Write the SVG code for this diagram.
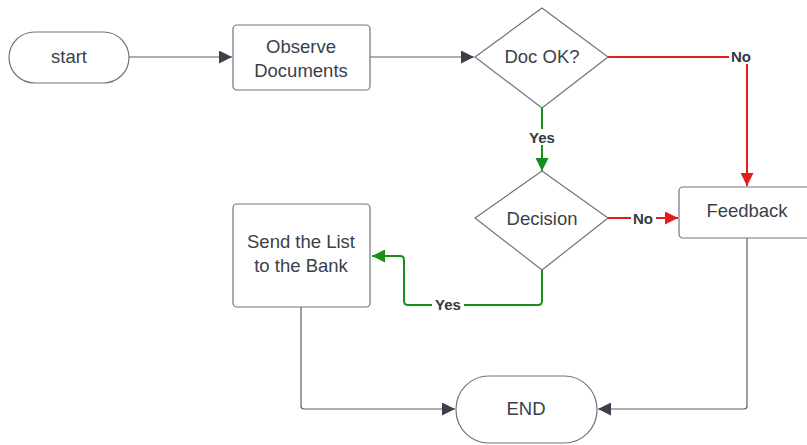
<svg xmlns="http://www.w3.org/2000/svg" width="807" height="445" viewBox="0 0 807 445">
  <style>
    .shape { fill: #ffffff; stroke: #70747b; stroke-width: 1.2; }
    .txt { font-family: "Liberation Sans", Arial, sans-serif; font-size: 18.5px; fill: #3a414a; text-anchor: middle; dominant-baseline: central; }
    .lbl { font-family: "Liberation Sans", Arial, sans-serif; font-size: 15px; font-weight: bold; fill: #333a42; text-anchor: middle; dominant-baseline: central; }
    .line { fill: none; stroke: #5a5f67; stroke-width: 1.2; }
    .red { fill: none; stroke: #e51c1c; stroke-width: 2; }
    .green { fill: none; stroke: #16901a; stroke-width: 2; }
    .lblbg { fill: #ffffff; }
  </style>
  <defs>
    <marker id="arrGray" viewBox="0 0 10 10" refX="10" refY="5" markerWidth="13" markerHeight="13" markerUnits="userSpaceOnUse" orient="auto">
      <path d="M0,0 L10,5 L0,10 z" fill="#3a414a"/>
    </marker>
    <marker id="arrRed" viewBox="0 0 10 10" refX="10" refY="5" markerWidth="13" markerHeight="13" markerUnits="userSpaceOnUse" orient="auto">
      <path d="M0,0 L10,5 L0,10 z" fill="#e51c1c"/>
    </marker>
    <marker id="arrGreen" viewBox="0 0 10 10" refX="10" refY="5" markerWidth="13" markerHeight="13" markerUnits="userSpaceOnUse" orient="auto">
      <path d="M0,0 L10,5 L0,10 z" fill="#16901a"/>
    </marker>
  </defs>

  <rect width="807" height="445" fill="#ffffff"/>

  <g id="connectors">
    <path class="line" d="M129,57 H232" marker-end="url(#arrGray)"/>
    <path class="line" d="M370,57 H474" marker-end="url(#arrGray)"/>
    <path class="red" d="M608,57 H743 Q747,57 747,61 V186" marker-end="url(#arrRed)"/>
    <path class="green" d="M542,108 V171" marker-end="url(#arrGreen)"/>
    <path class="red" d="M608,218 H678" marker-end="url(#arrRed)"/>
    <path class="green" d="M542,270 V301 Q542,305 538,305 H408 Q404,305 404,301 V260 Q404,256 400,256 H372" marker-end="url(#arrGreen)"/>
    <path class="line" d="M301,307 V406 Q301,409 304,409 H455" marker-end="url(#arrGray)"/>
    <path class="line" d="M747,238 V406 Q747,409 744,409 H598" marker-end="url(#arrGray)"/>
    <rect class="lblbg" x="729" y="48" width="25" height="16"/>
    <text class="lbl" x="741" y="56">No</text>
    <rect class="lblbg" x="527" y="129" width="31" height="16"/>
    <text class="lbl" x="542" y="137">Yes</text>
    <rect class="lblbg" x="631" y="210" width="25" height="16"/>
    <text class="lbl" x="643" y="218">No</text>
    <rect class="lblbg" x="432" y="296" width="32" height="16"/>
    <text class="lbl" x="448" y="304">Yes</text>
  </g>

  <g id="start">
    <rect class="shape" x="9" y="32" width="120" height="51" rx="25.5"/>
    <text class="txt" x="69" y="56">start</text>
  </g>

  <g id="observe">
    <rect class="shape" x="233" y="25" width="137" height="65" rx="4"/>
    <text class="txt" x="301" y="46">Observe</text>
    <text class="txt" x="301" y="70">Documents</text>
  </g>

  <g id="docok">
    <path class="shape" d="M542,8 L608,57 L542,108 L475,57 Z" stroke-linejoin="round"/>
    <text class="txt" x="542" y="56">Doc OK?</text>
  </g>

  <g id="decision">
    <path class="shape" d="M542,171 L608,218 L542,270 L475,218 Z" stroke-linejoin="round"/>
    <text class="txt" x="542" y="218">Decision</text>
  </g>

  <g id="feedback">
    <rect class="shape" x="679" y="187" width="140" height="51" rx="4"/>
    <text class="txt" x="747" y="210">Feedback</text>
  </g>

  <g id="send">
    <rect class="shape" x="233" y="204" width="137" height="103" rx="4"/>
    <text class="txt" x="301" y="241">Send the List</text>
    <text class="txt" x="301" y="265">to the Bank</text>
  </g>

  <g id="end">
    <rect class="shape" x="456" y="376" width="141" height="67" rx="33"/>
    <text class="txt" x="526" y="408">END</text>
  </g>
</svg>
